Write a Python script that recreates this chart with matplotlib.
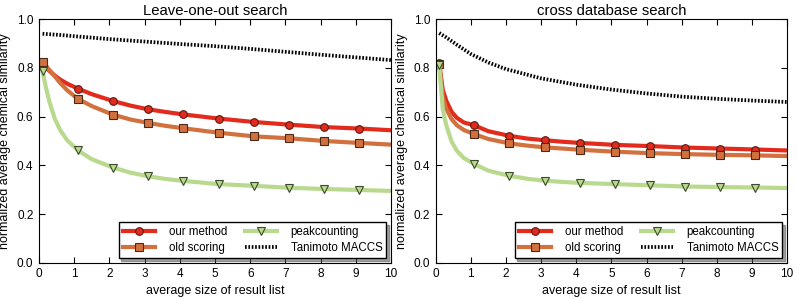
import matplotlib
matplotlib.use("Agg")
import matplotlib.pyplot as plt

plt.rcParams['font.family'] = ['Liberation Sans', 'DejaVu Sans']

# x positions of the sampled curve points (markers sit at 0.1, 1.1, ..., 9.1)
xs = [0.1, 0.2, 0.3, 0.45, 0.6, 0.8, 1.1, 1.5, 2.1, 2.6, 3.1, 3.6, 4.1,
      5.1, 6.1, 7.1, 8.1, 9.1, 10.0]
marker_idx = [0, 6, 8, 10, 12, 13, 14, 15, 16, 17]

# Leave-one-out search
loo_ours = [0.815, 0.800, 0.787, 0.768, 0.752, 0.735, 0.715, 0.692, 0.664, 0.645,
            0.630, 0.619, 0.609, 0.592, 0.578, 0.567, 0.557, 0.551, 0.544]
loo_old = [0.826, 0.808, 0.790, 0.765, 0.738, 0.708, 0.673, 0.643, 0.608, 0.588,
           0.574, 0.562, 0.552, 0.534, 0.519, 0.511, 0.500, 0.492, 0.485]
loo_peak = [0.787, 0.716, 0.658, 0.590, 0.545, 0.503, 0.462, 0.425, 0.391, 0.370,
            0.355, 0.344, 0.336, 0.323, 0.316, 0.308, 0.303, 0.299, 0.295]

# cross database search
cross_ours = [0.818, 0.710, 0.665, 0.620, 0.595, 0.576, 0.564, 0.540, 0.521, 0.510,
              0.503, 0.497, 0.492, 0.484, 0.479, 0.473, 0.469, 0.465, 0.461]
cross_old = [0.815, 0.680, 0.632, 0.590, 0.565, 0.545, 0.528, 0.508, 0.490, 0.481,
             0.474, 0.469, 0.464, 0.456, 0.450, 0.446, 0.443, 0.441, 0.438]
cross_peak = [0.810, 0.630, 0.565, 0.498, 0.460, 0.430, 0.405, 0.378, 0.357, 0.345,
              0.337, 0.332, 0.328, 0.323, 0.318, 0.313, 0.311, 0.309, 0.307]

# Tanimoto MACCS baseline
tani_x = [0.1, 0.3, 0.6, 1, 1.5, 2, 3, 4, 5, 6, 7, 8, 9, 10]
loo_tani = [0.940, 0.938, 0.935, 0.930, 0.924, 0.918, 0.908, 0.898, 0.889, 0.878,
            0.866, 0.854, 0.843, 0.832]
cross_tani = [0.943, 0.925, 0.895, 0.857, 0.822, 0.795, 0.757, 0.731, 0.711, 0.695,
              0.682, 0.673, 0.666, 0.660]

titles = ["Leave-one-out search", "cross database search"]
panels = [(loo_ours, loo_old, loo_peak, loo_tani),
          (cross_ours, cross_old, cross_peak, cross_tani)]

fig = plt.figure(figsize=(7.97, 2.99), dpi=100)
ax_pos = [[0.049, 0.121, 0.4416, 0.815], [0.5467, 0.121, 0.4408, 0.815]]

for pos, title, (ours, old, peak, tani) in zip(ax_pos, titles, panels):
    ax = fig.add_axes(pos)
    ax.plot(xs, ours, color='#e32b1d', lw=3, marker='o', ms=5.5, mfc='#e32b1d',
            mec='#5a1a10', mew=0.8, markevery=marker_idx, label='our method')
    ax.plot(xs, old, color='#d2703e', lw=3, marker='s', ms=5.5, mfc='#d2703e',
            mec='#4a2a18', mew=0.8, markevery=marker_idx, label='old scoring')
    ax.plot(xs, peak, color='#b9da8e', lw=3, marker='v', ms=5.5, mfc='#b9da8e',
            mec='#3a4a2a', mew=0.8, markevery=marker_idx, label='peakcounting')
    ax.plot(tani_x, tani, color='black', lw=2.7, ls=(0, (0.45, 0.45)),
            label='Tanimoto MACCS')

    ax.set_xlim(0, 10)
    ax.set_ylim(0, 1.0)
    ax.set_xticks(range(0, 11))
    ax.set_yticks([0.0, 0.2, 0.4, 0.6, 0.8, 1.0])
    ax.tick_params(direction='in', top=True, right=True, labelsize=8.5, length=4,
                   pad=4)
    ax.set_title(title, fontsize=10.7, pad=3)
    ax.set_xlabel('average size of result list', fontsize=9, labelpad=3)
    ax.set_ylabel('normalized average chemical similarity', fontsize=9, labelpad=4)

    leg = ax.legend(loc='lower right', ncol=2, fontsize=8.3, handlelength=2.8,
                    fancybox=False, shadow=True, framealpha=1,
                    borderaxespad=0.4, borderpad=0.35, columnspacing=1.5,
                    handletextpad=1.2, labelspacing=0.35)
    leg.get_frame().set_edgecolor('black')

fig.savefig('out.png', dpi=100)
